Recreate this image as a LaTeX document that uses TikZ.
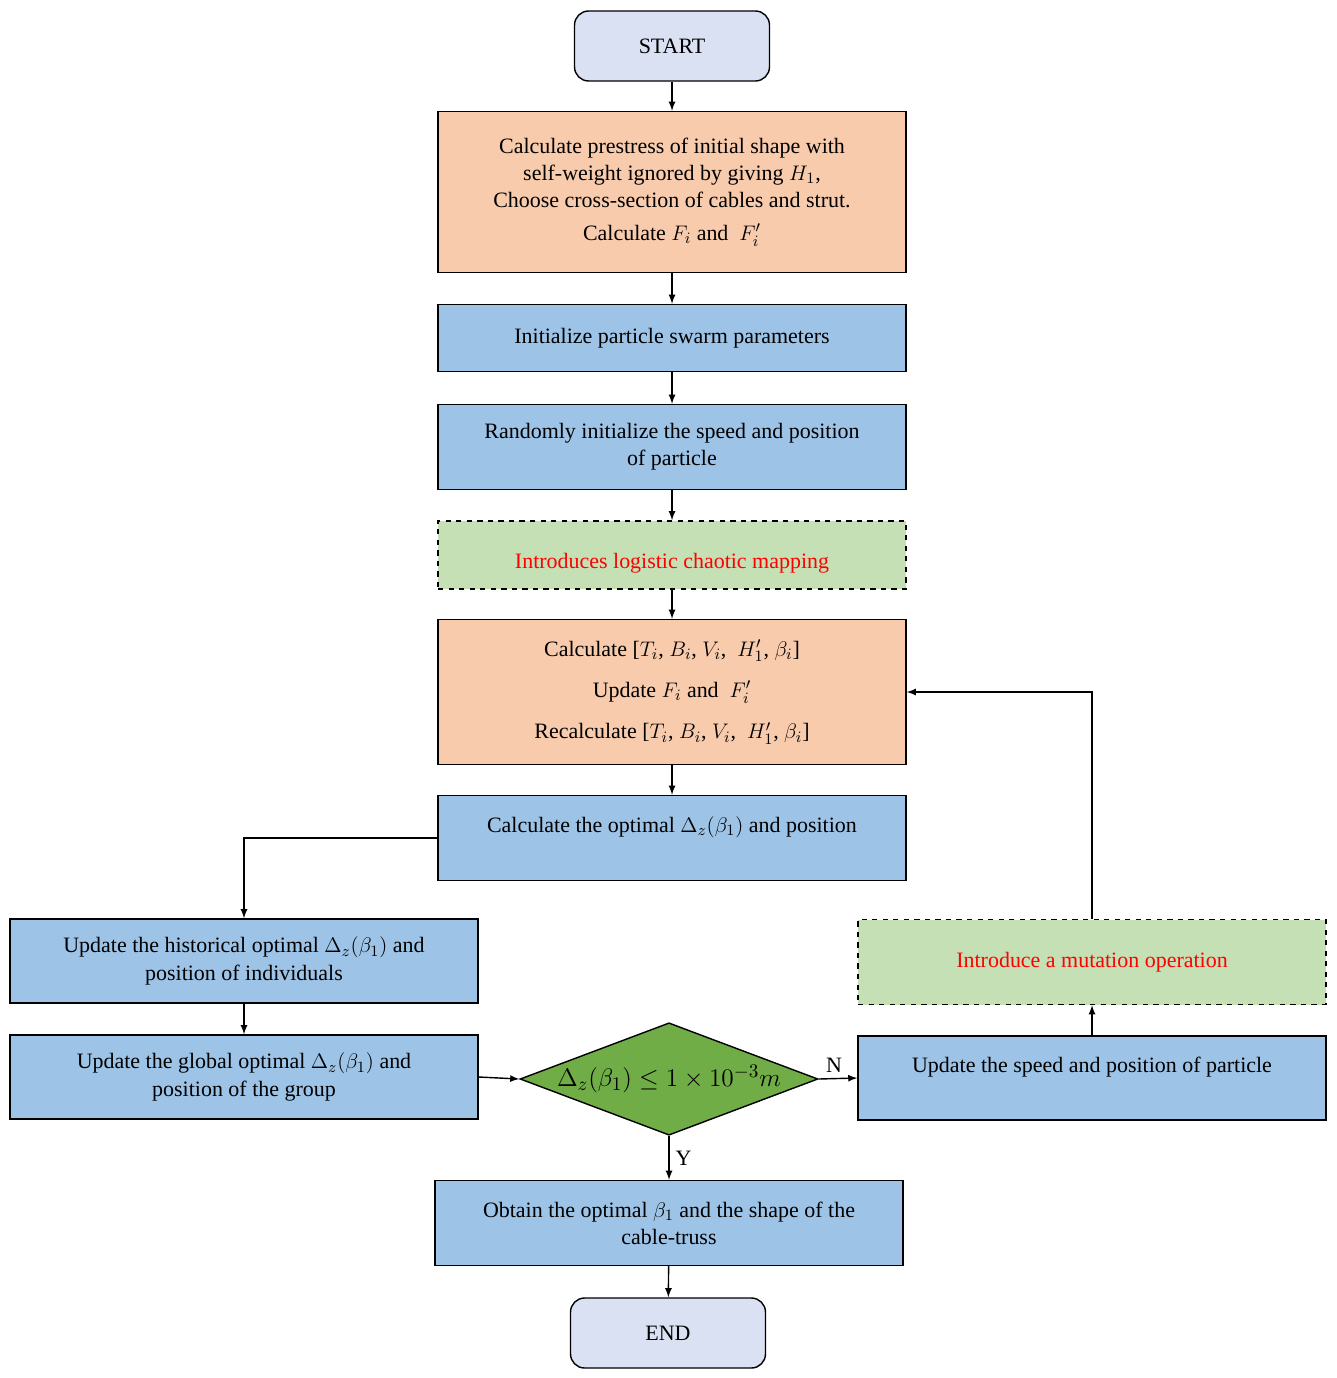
\documentclass[tikz,border=0pt]{standalone}
\usepackage{fontspec}
\setmainfont{Liberation Serif}
\usepackage{xcolor}
\usetikzlibrary{positioning,shapes.geometric}
\definecolor{stepblue}{HTML}{9DC3E6}
\definecolor{steporange}{HTML}{F8CBAD}
\definecolor{stepgreen}{HTML}{C5E0B4}
\definecolor{termblue}{HTML}{D9E1F2}
\definecolor{decgreen}{HTML}{70AD47}
\tikzset{
  every node/.style={font=\fontsize{12.5}{15.5}\selectfont},
  box/.style={draw, thick, fill=stepblue, minimum width=9.36cm, align=center, inner sep=2pt},
  term/.style={draw, thick, rounded corners=8pt, fill=termblue, minimum width=3.9cm, minimum height=1.4cm},
  note/.style={box, dashed, fill=stepgreen, text=red},
  flow/.style={-latex, thick}
}
\begin{document}
\begin{tikzpicture}[x=0.02cm, y=-0.02cm]
  \useasboundingbox (0,0) rectangle (1336,1378);
  \node[term] (start) at (672,46) {START};
  \node[box, fill=steporange, minimum height=3.22cm] (init) at (672,192)
    {Calculate prestress of initial shape with\\ self-weight ignored by giving $H_1$,\\
     Choose cross-section of cables and strut.\\[3pt] Calculate $F_i$ and \ $F_i'$};
  \node[box, minimum height=1.34cm] (pso) at (672,338) {Initialize particle swarm parameters};
  \node[box, minimum height=1.7cm] (rand) at (672,447) {Randomly initialize the speed and position\\ of particle};
  \node[note, minimum height=1.36cm] (chaos) at (672,555) {\\[2pt]Introduces logistic chaotic mapping};
  \node[box, fill=steporange, minimum height=2.9cm] (calc) at (672,692)
    {Calculate [$T_i$, $B_i$, $V_i$, \ $H_1'$, $\beta_i$]\\[8pt]
     Update $F_i$ and \ $F_i'$\\[8pt]
     Recalculate [$T_i$, $B_i$, $V_i$, \ $H_1'$, $\beta_i$]};
  \node[box, minimum height=1.7cm] (opt) at (672,838)
    {Calculate the optimal $\Delta_z(\beta_1)$ and position\\ \mbox{}};
  \node[box, minimum height=1.68cm] (hist) at (244,961)
    {Update the historical optimal $\Delta_z(\beta_1)$ and\\ position of individuals};
  \node[box, minimum height=1.68cm] (glob) at (244,1077)
    {Update the global optimal $\Delta_z(\beta_1)$ and\\ position of the group};
  \node[draw, thick, diamond, aspect=2.65, fill=decgreen, minimum width=5.84cm, minimum height=2.2cm,
    inner sep=0pt, font=\fontsize{15}{18}\selectfont] (check) at (669,1079)
    {$\Delta_z(\beta_1)\leq 1\times10^{-3}m$};
  \node[box, minimum height=1.68cm] (speed) at (1092,1078)
    {Update the speed and position of particle\\ \mbox{}};
  \node[note, minimum height=1.7cm] (mut) at (1092,962) {Introduce a mutation operation};
  \node[box, minimum height=1.7cm] (res) at (669,1223)
    {Obtain the optimal $\beta_1$ and the shape of the\\ cable-truss};
  \node[term] (end) at (668,1333) {END};

  \draw[flow] (start) -- (init);
  \draw[flow] (init) -- (pso);
  \draw[flow] (pso) -- (rand);
  \draw[flow] (rand) -- (chaos);
  \draw[flow] (chaos) -- (calc);
  \draw[flow] (calc) -- (opt);
  \draw[flow] (opt.west) -| (hist.north);
  \draw[flow] (hist) -- (glob);
  \draw[flow] (glob.east) -- (check.west);
  \draw[flow] (check.east) -- node[above, pos=0.4] {N} (speed.west);
  \draw[flow] (check.south) -- node[right] {Y} (res.north);
  \draw[flow] (speed) -- (mut);
  \draw[flow] (mut.north) |- (calc.east);
  \draw[flow] (res) -- (end);
\end{tikzpicture}
\end{document}
